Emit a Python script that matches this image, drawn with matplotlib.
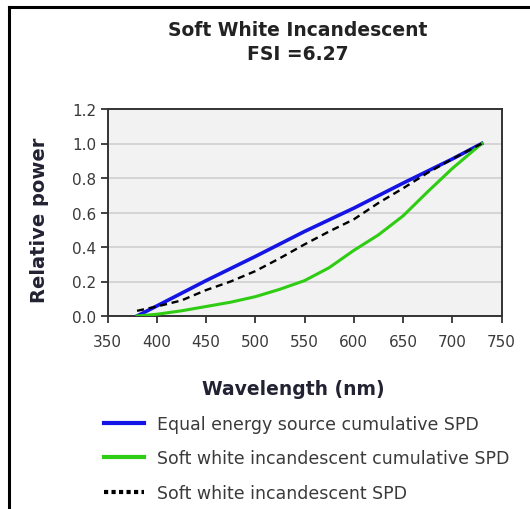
import numpy as np
import matplotlib.pyplot as plt
from matplotlib.lines import Line2D

plt.rcParams['font.family'] = ['DejaVu Sans']

# Werte
wl_blue = [380, 400, 450, 500, 550, 600, 650, 700, 730]
equal_energy = [0.0, 0.058, 0.205, 0.345, 0.49, 0.625, 0.77, 0.91, 1.0]

wl_green = [380, 400, 425, 450, 475, 500, 525, 550, 575, 600, 625, 650, 675, 700, 730]
soft_white_cum = [0.0, 0.01, 0.03, 0.055, 0.08, 0.112, 0.155, 0.205, 0.28, 0.38,
                  0.47, 0.58, 0.72, 0.855, 1.0]

wl_black = [380, 400, 425, 450, 475, 500, 525, 550, 575, 600, 625, 650, 675, 700, 730]
soft_white_spd = [0.03, 0.055, 0.09, 0.15, 0.2, 0.26, 0.335, 0.415, 0.49, 0.56,
                  0.655, 0.74, 0.83, 0.91, 1.0]

xticks = [350, 400, 450, 500, 550, 600, 650, 700, 750]
yticks = [0.0, 0.2, 0.4, 0.6, 0.8, 1.0, 1.2]

W, H = 530, 510
fig = plt.figure(figsize=(W / 100, H / 100), dpi=100)
ax = fig.add_axes([107.5 / W, 1 - 317 / H, 394 / W, 207 / H])
ax.set_facecolor('#f2f2f2')

ax.plot(wl_blue, equal_energy, color='#1414e6', lw=2.6, zorder=3,
        label='Equal energy source cumulative SPD')
ax.plot(wl_green, soft_white_cum, color='#2ecc12', lw=2.2, zorder=3,
        label='Soft white incandescent cumulative SPD')
ax.plot(wl_black, soft_white_spd, color='black', lw=1.7, ls=(0, (3, 2)), zorder=4,
        label='Soft white incandescent SPD')

ax.set_xlim(350, 750)
ax.set_ylim(0, 1.2)
ax.set_xticks(xticks)
ax.set_yticks(yticks)
ax.set_xticklabels([str(t) for t in xticks])
ax.set_yticklabels([f'{t:.1f}' for t in yticks])
ax.yaxis.grid(True, color='#d0d0d0', lw=1.2)
ax.set_axisbelow(True)
ax.tick_params(axis='both', direction='out', length=5, width=1.3, color='#333333',
               labelsize=11, labelcolor='#3a3a3a', pad=3)
ax.tick_params(axis='x', pad=8)
for s in ax.spines.values():
    s.set_color('#333333')
    s.set_linewidth(1.4)

ax.set_xlabel('Wavelength (nm)', fontsize=13.5, fontweight='bold', color='#222233')
ax.set_ylabel('Relative power', fontsize=14, fontweight='bold', color='#222233')
ax.xaxis.set_label_coords((293.5 - 107.5) / 394, -(390 - 317) / 207)
ax.yaxis.set_label_coords(-(107.5 - 40) / 394, (317 - 220) / 207)
ax.xaxis.label.set_va('center')
ax.yaxis.label.set_va('center')

fig.text(298 / W, 1 - 31 / H, 'Soft White Incandescent', ha='center', va='center',
         fontsize=13.5, fontweight='bold', color='#222222')
fig.text(298 / W, 1 - 55 / H, 'FSI =6.27', ha='center', va='center',
         fontsize=13.5, fontweight='bold', color='#222222')

handles = [
    Line2D([], [], color='#1414e6', lw=3),
    Line2D([], [], color='#2ecc12', lw=3),
    Line2D([], [], color='black', lw=3, ls=(0, (1, 0.8))),
]
labels = ['Equal energy source cumulative SPD',
          'Soft white incandescent cumulative SPD',
          'Soft white incandescent SPD']
fig.legend(handles, labels, loc='upper left', bbox_to_anchor=(104 / W, 1 - 416 / H),
           frameon=False, fontsize=12.5, labelcolor='#3a3a3a', handlelength=2.3,
           handletextpad=0.75, labelspacing=0.95, borderaxespad=0, borderpad=0)

# Rahmen oben und links
fig.add_artist(Line2D([8.5 / W, 1], [1 - 7.5 / H, 1 - 7.5 / H], color='black', lw=2.2,
                      transform=fig.transFigure))
fig.add_artist(Line2D([8.5 / W, 8.5 / W], [0, 1 - 7.5 / H], color='black', lw=2.2,
                      transform=fig.transFigure))

fig.savefig('out.png', dpi=100)
